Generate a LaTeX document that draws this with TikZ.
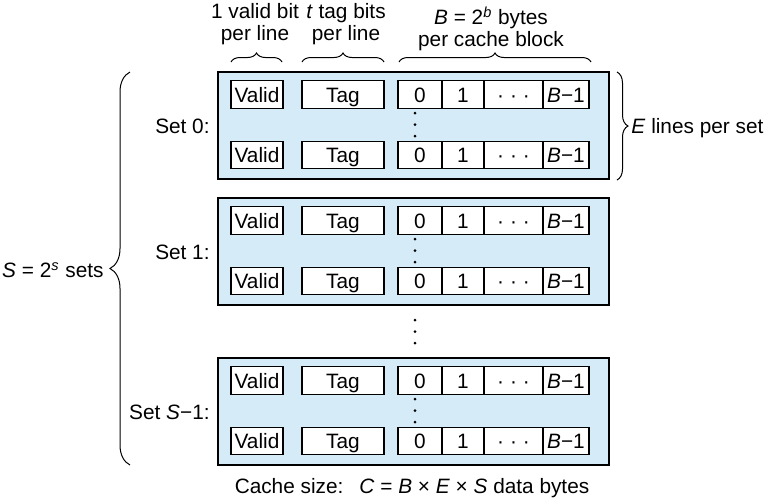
\documentclass[tikz,border=0pt]{standalone}
\usepackage{fontspec}
\setmainfont{Liberation Sans}
\usetikzlibrary{decorations.pathreplacing}
\definecolor{setblue}{RGB}{214,235,248}
\tikzset{
  cell/.style={draw=black, line width=0.55pt, fill=white, inner sep=0pt, minimum height=13.8pt, text height=7.5pt, text depth=0pt, anchor=center},
  setbox/.style={draw=black, line width=0.55pt, fill=setblue, inner sep=0pt, minimum width=195.5pt, minimum height=53.5pt},
  lbl/.style={inner sep=0pt, font=\fontsize{10.4}{11}\selectfont, align=center},
  brc/.style={draw=black, line width=0.5pt, decorate, decoration={brace, amplitude=#1}},
  vdot/.style={fill=black},
}
\newcommand\mkrow[2]{%
  \node[cell, minimum width=26pt] (#1v) at (257,#2) {Valid};
  \node[cell, minimum width=41pt] (#1t) at (343,#2) {Tag};
  \node[cell, minimum width=22pt] (#1a) at (420,#2) {0};
  \node[cell, minimum width=21pt] (#1b) at (463,#2) {1};
  \node[cell, minimum width=29.5pt] (#1c) at (513.5,#2) {·\hspace{3pt}·\hspace{3pt}·};
  \node[cell, minimum width=23pt] (#1d) at (566,#2) {\textit{B}−1};
}
\newcommand\mkset[3]{% name, top y, label
  \node[setbox] (#1) at (413.5,#2+53.5) {};
  \mkrow{#1r}{#2+22.5}
  \mkrow{#1s}{#2+83}
  \fill[vdot] (415,#2+41) circle (0.75pt);
  \fill[vdot] (415,#2+52.5) circle (0.75pt);
  \fill[vdot] (415,#2+64) circle (0.75pt);
  \node[lbl, anchor=east] (#1lab) at (210,#2+54) {#3};
}
\begin{document}
\begin{tikzpicture}[x=0.5pt, y=-0.5pt, font=\fontsize{10.4}{11}\selectfont]
\useasboundingbox (0,0) rectangle (766,500);
\mkset{s0}{72}{Set 0:}
\mkset{s1}{198}{Set 1:}
\mkset{sl}{358}{Set \textit{S}−1:}
% dots between sets
\fill[vdot] (415,320) circle (0.75pt);
\fill[vdot] (415,331.5) circle (0.75pt);
\fill[vdot] (415,343) circle (0.75pt);
% top braces
\coordinate (va) at (231,62); \coordinate (vb) at (282,62);
\coordinate (ta) at (302,62); \coordinate (tb) at (384,62);
\coordinate (da) at (399,62); \coordinate (db) at (591,62);
\draw[brc=4.5pt] (va) -- (vb);
\draw[brc=4.5pt] (ta) -- (tb);
\draw[brc=4.5pt] (da) -- (db);
\node[lbl] (vlab) at (255,24) {1 valid bit\\per line};
\node[lbl] (tlab) at (346,24) {\textit{t} tag bits\\per line};
\node[lbl] (dlab) at (491,29) {\textit{B} = 2\textsuperscript{\textit{b}} bytes\\per cache block};
% right brace
\coordinate (ea) at (617,72); \coordinate (eb) at (617,180);
\draw[brc=5.5pt] (ea) -- (eb);
\node[lbl, anchor=west] (elab) at (631,128) {\textit{E} lines per set};
% left brace
\coordinate (la) at (130,465); \coordinate (lb) at (130,72);
\draw[brc=10pt] (la) -- (lb);
\node[lbl, anchor=east] (slab) at (104,270) {\textit{S} = 2\textsuperscript{\textit{s}} sets};
% bottom
\node[lbl] (clab) at (412,488) {Cache size:\hspace{8pt}\textit{C} = \textit{B} × \textit{E} × \textit{S} data bytes};
\end{tikzpicture}
\end{document}
